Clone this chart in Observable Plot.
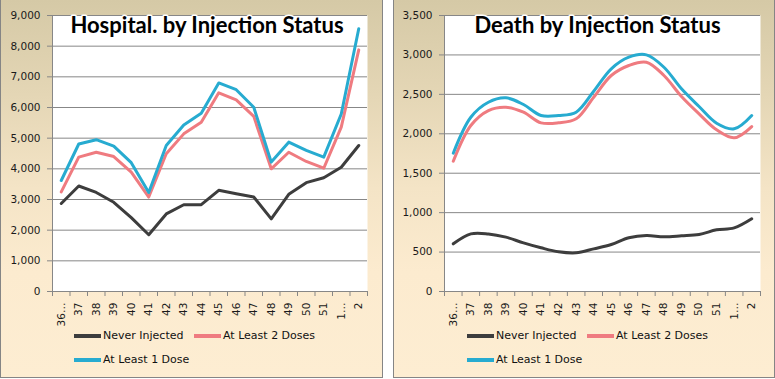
<!DOCTYPE html>
<html><head><meta charset="utf-8">
<script src="https://cdn.jsdelivr.net/npm/d3@7"></script>
<script src="https://cdn.jsdelivr.net/npm/@observablehq/plot@0.6"></script>
<style>
body{margin:0;background:#fff;width:775px;height:379px;overflow:hidden;position:relative;font-family:"DejaVu Sans",sans-serif;}
.panel{position:absolute;top:-1px;height:379px;box-sizing:border-box;border:1px solid #858585;background:linear-gradient(to bottom,#d5c9a6 0%,#e4d6b5 25%,#f4e4c6 50%,#fcebcf 72%,#fdedd2 100%);}
.chart{position:absolute;top:0;}
.leg{position:absolute;font-size:11px;line-height:14px;color:#111;display:flex;align-items:center;white-space:nowrap;}
.sw{display:inline-block;width:27px;height:4px;margin-right:2px;}
</style></head><body>
<div class="panel" style="left:0;width:383px"></div>
<div class="panel" style="left:393px;width:382px"></div>
<div id="c1" class="chart" style="left:0"></div>
<div id="c2" class="chart" style="left:393px"></div>
<div id="l1"></div><div id="l2"></div>
<script>
const categories = ["36…","37","38","39","40","41","42","43","44","45","46","47","48","49","50","51","1…","2"];
const seriesNames = ["Never Injected","At Least 2 Doses","At Least 1 Dose"];
const seriesColors = ["#3d3d3d","#ef7b80","#27abd0"];

const hospNever = [2870,3440,3230,2910,2410,1850,2530,2830,2830,3300,3190,3080,2370,3170,3550,3710,4050,4760];
const hospTwo   = [3250,4380,4540,4400,3890,3080,4490,5140,5520,6480,6250,5710,4000,4540,4240,4020,5360,7880];
const hospOne   = [3620,4810,4950,4740,4200,3230,4760,5430,5810,6800,6580,6010,4220,4870,4600,4380,5790,8570];

const deathNever = [605,731,730,689,617,554,503,490,541,596,681,710,693,706,723,782,807,922];
const deathTwo   = [1652,2105,2295,2337,2274,2139,2139,2190,2464,2739,2866,2908,2739,2473,2253,2050,1949,2092];
const deathOne   = [1754,2210,2400,2456,2371,2232,2232,2274,2540,2824,2971,3001,2844,2570,2346,2134,2063,2232];

const hospTicks = [0,1000,2000,3000,4000,5000,6000,7000,8000,9000];
const deathTicks = [0,500,1000,1500,2000,2500,3000,3500];

function makeChart({width, marginLeft, marginRight, ticks, values, curve, title, dx}) {
  const rows = values.flatMap((vals, s) => vals.map((v, i) => ({i, v, name: seriesNames[s]})));
  const idx = categories.map((_, i) => i);
  const bounds = d3.range(categories.length + 1).map(i => i - 0.5);
  const grid = "#878787";
  return Plot.plot({
    width, height: 320, marginLeft, marginRight, marginTop: 15, marginBottom: 29,
    style: {background: "transparent", fontFamily: "DejaVu Sans", fontSize: "10.5px", color: "#1a1a1a", overflow: "visible"},
    x: {type: "linear", domain: [-0.5, categories.length - 0.5]},
    y: {domain: [0, ticks[ticks.length - 1]]},
    color: {domain: seriesNames, range: seriesColors},
    marks: [
      Plot.frame({fill: "white", stroke: null}),
      Plot.gridY(ticks, {stroke: grid, strokeOpacity: 1}),
      Plot.ruleX([-0.5], {stroke: grid}),
      Plot.ruleY([0], {stroke: grid}),
      Plot.axisY(ticks, {tickSize: 5, tickPadding: 7, tickFormat: d3.format(","), stroke: grid, fill: "#1a1a1a", label: null}),
      Plot.axisX(bounds, {tickSize: 5, tickFormat: () => "", stroke: grid, label: null}),
      Plot.axisX(idx, {tickSize: 0, tickPadding: 11, tickRotate: -90, tickFormat: i => categories[i], fill: "#1a1a1a", label: null}),
      Plot.line(rows, {x: "i", y: "v", z: "name", stroke: "name", strokeWidth: 3, curve}),
      Plot.text([title], {frameAnchor: "top", dy: 10, dx, lineAnchor: "middle", fontSize: 22, fontWeight: "bold", fontFamily: "Lato", fill: "black", stroke: "white", strokeWidth: 3})
    ]
  });
}

document.getElementById("c1").append(makeChart({
  width: 383, marginLeft: 52, marginRight: 16, ticks: hospTicks,
  values: [hospNever, hospTwo, hospOne], curve: "linear",
  title: "Hospital. by Injection Status", dx: -3
}));
document.getElementById("c2").append(makeChart({
  width: 382, marginLeft: 51, marginRight: 15, ticks: deathTicks,
  values: [deathNever, deathTwo, deathOne], curve: "catmull-rom",
  title: "Death by Injection Status", dx: -5
}));

function legend(id, left) {
  const el = document.getElementById(id);
  const pos = [[74, 329], [194, 329], [74, 353]];
  seriesNames.forEach((n, k) => {
    const d = document.createElement("div");
    d.className = "leg";
    d.style.left = (left + pos[k][0]) + "px";
    d.style.top = pos[k][1] + "px";
    const sw = document.createElement("span");
    sw.className = "sw";
    sw.style.background = seriesColors[k];
    d.append(sw, document.createTextNode(n));
    el.append(d);
  });
}
legend("l1", 0);
legend("l2", 393);
</script>
</body></html>
